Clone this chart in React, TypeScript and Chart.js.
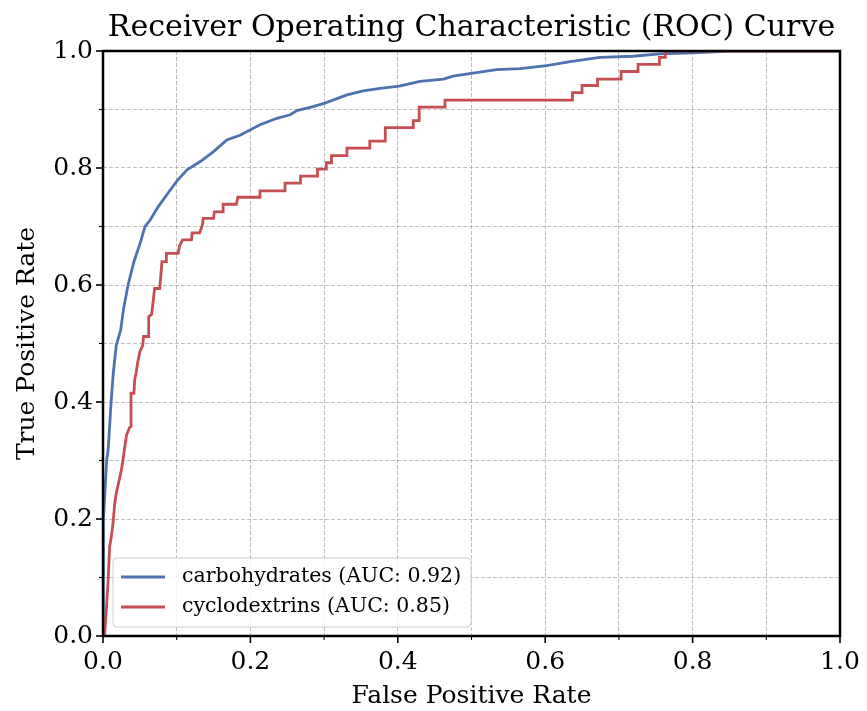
import { useEffect, useRef } from 'react';
import { Chart, registerables } from 'chart.js';

Chart.register(...registerables);

const chartTitle = 'Receiver Operating Characteristic (ROC) Curve';
const xAxisTitle = 'False Positive Rate';
const yAxisTitle = 'True Positive Rate';
const seriesNames = ['carbohydrates', 'cyclodextrins'];
const aucValues = [0.92, 0.85];
const seriesColors = ['#4C72B0', '#C44E52'];
const tickValues = [0, 0.1, 0.2, 0.3, 0.4, 0.5, 0.6, 0.7, 0.8, 0.9, 1.0];

const carbFpr = [0, 0, 0.001, 0.003, 0.005, 0.007, 0.011, 0.014, 0.018, 0.024, 0.028, 0.034, 0.042, 0.05, 0.057, 0.064, 0.075, 0.091, 0.101, 0.114, 0.132, 0.15, 0.168, 0.186, 0.204, 0.213, 0.236, 0.254, 0.263, 0.285, 0.301, 0.331, 0.353, 0.376, 0.402, 0.43, 0.462, 0.475, 0.502, 0.534, 0.566, 0.602, 0.634, 0.674, 0.719, 0.756, 0.801, 0.85, 1.0];
const carbTpr = [0, 0.05, 0.2, 0.255, 0.3, 0.318, 0.4, 0.45, 0.497, 0.523, 0.56, 0.6, 0.64, 0.67, 0.7, 0.711, 0.734, 0.762, 0.779, 0.797, 0.811, 0.828, 0.848, 0.856, 0.868, 0.874, 0.885, 0.891, 0.898, 0.905, 0.911, 0.925, 0.932, 0.936, 0.94, 0.948, 0.952, 0.957, 0.962, 0.968, 0.97, 0.975, 0.982, 0.989, 0.991, 0.995, 0.997, 1.0, 1.0];

const cycloFpr = [0, 0.002, 0.0045, 0.007, 0.009, 0.011, 0.0136, 0.016, 0.018, 0.021, 0.025, 0.027, 0.029, 0.032, 0.036, 0.038, 0.038, 0.042, 0.043, 0.045, 0.047, 0.05, 0.054, 0.055, 0.062, 0.062, 0.066, 0.068, 0.07, 0.077, 0.08, 0.086, 0.086, 0.102, 0.104, 0.108, 0.12, 0.121, 0.131, 0.135, 0.136, 0.15, 0.151, 0.163, 0.163, 0.181, 0.183, 0.213, 0.213, 0.247, 0.247, 0.268, 0.268, 0.291, 0.291, 0.303, 0.303, 0.31, 0.31, 0.331, 0.331, 0.362, 0.362, 0.383, 0.383, 0.421, 0.421, 0.429, 0.429, 0.464, 0.464, 0.637, 0.637, 0.65, 0.65, 0.671, 0.671, 0.703, 0.703, 0.726, 0.726, 0.755, 0.755, 0.763, 0.763, 1.0];
const cycloTpr = [0, 0, 0.044, 0.096, 0.153, 0.167, 0.193, 0.227, 0.244, 0.261, 0.284, 0.3, 0.318, 0.344, 0.356, 0.358, 0.415, 0.415, 0.438, 0.45, 0.467, 0.486, 0.497, 0.512, 0.512, 0.546, 0.55, 0.571, 0.594, 0.594, 0.64, 0.64, 0.654, 0.654, 0.668, 0.677, 0.677, 0.689, 0.689, 0.703, 0.714, 0.714, 0.725, 0.725, 0.738, 0.738, 0.75, 0.75, 0.761, 0.761, 0.774, 0.774, 0.786, 0.786, 0.798, 0.798, 0.809, 0.809, 0.821, 0.821, 0.834, 0.834, 0.846, 0.846, 0.869, 0.869, 0.881, 0.881, 0.904, 0.904, 0.916, 0.916, 0.929, 0.929, 0.941, 0.941, 0.952, 0.952, 0.965, 0.965, 0.977, 0.977, 0.989, 0.989, 1.0, 1.0];

const FONT = "'DejaVu Serif', serif";

const toPoints = (xs: number[], ys: number[]) => xs.map((x, i) => ({ x, y: ys[i] }));

const framePlugin = {
  id: 'frameTicks',
  afterDatasetsDraw(chart: any) {
    const { ctx, chartArea: a, scales } = chart;
    ctx.save();
    ctx.strokeStyle = '#000';
    tickValues.forEach((v, i) => {
      const major = i % 2 === 0;
      const len = major ? 7 : 4;
      ctx.lineWidth = major ? 1.6 : 1.1;
      const px = scales.x.getPixelForValue(v);
      ctx.beginPath();
      ctx.moveTo(px, a.bottom);
      ctx.lineTo(px, a.bottom + len);
      ctx.stroke();
      const py = scales.y.getPixelForValue(v);
      ctx.beginPath();
      ctx.moveTo(a.left, py);
      ctx.lineTo(a.left - len, py);
      ctx.stroke();
    });
    ctx.lineWidth = 2.5;
    ctx.strokeRect(a.left, a.top, a.right - a.left, a.bottom - a.top);
    // title centred over the plot area
    ctx.fillStyle = '#000';
    ctx.font = `30px ${FONT}`;
    ctx.textAlign = 'center';
    ctx.textBaseline = 'middle';
    ctx.fillText(chartTitle, (a.left + a.right) / 2, 28);
    ctx.restore();
  },
};

const legendPlugin = {
  id: 'insetLegend',
  afterDraw(chart: any) {
    const { ctx, chartArea: a } = chart;
    const ds = chart.data.datasets;
    ctx.save();
    ctx.font = `20.5px ${FONT}`;
    let maxW = 0;
    ds.forEach((d: any) => { maxW = Math.max(maxW, ctx.measureText(d.label).width); });
    const left = a.left + 10;
    const rowH = 30;
    const h = 69;
    const bottom = a.bottom - 9;
    const top = bottom - h;
    const w = 8 + 44 + 17 + maxW + 10;
    const r = 4;
    ctx.beginPath();
    ctx.moveTo(left + r, top);
    ctx.lineTo(left + w - r, top);
    ctx.quadraticCurveTo(left + w, top, left + w, top + r);
    ctx.lineTo(left + w, bottom - r);
    ctx.quadraticCurveTo(left + w, bottom, left + w - r, bottom);
    ctx.lineTo(left + r, bottom);
    ctx.quadraticCurveTo(left, bottom, left, bottom - r);
    ctx.lineTo(left, top + r);
    ctx.quadraticCurveTo(left, top, left + r, top);
    ctx.closePath();
    ctx.fillStyle = 'rgba(255,255,255,0.8)';
    ctx.fill();
    ctx.strokeStyle = '#cccccc';
    ctx.lineWidth = 1;
    ctx.stroke();
    ds.forEach((d: any, i: number) => {
      const cy = top + 19 + i * rowH;
      ctx.strokeStyle = d.borderColor;
      ctx.lineWidth = 2.8;
      ctx.beginPath();
      ctx.moveTo(left + 8, cy);
      ctx.lineTo(left + 52, cy);
      ctx.stroke();
      ctx.fillStyle = '#000';
      ctx.textBaseline = 'middle';
      ctx.textAlign = 'left';
      ctx.fillText(d.label, left + 69, cy);
    });
    ctx.restore();
  },
};

export default function App() {
  const ref = useRef<HTMLCanvasElement | null>(null);
  useEffect(() => {
    if (!ref.current) return;
    const tickLabel = (v: any) => {
      const k = Math.round(Number(v) * 10);
      return k % 2 === 0 ? (k / 10).toFixed(1) : '';
    };
    const gridOpts = {
      color: 'rgba(170,170,170,0.85)',
      lineWidth: 0.9,
      drawTicks: false,
    };
    const chart = new Chart(ref.current, {
      type: 'line',
      data: {
        datasets: [
          {
            label: `${seriesNames[0]} (AUC: ${aucValues[0].toFixed(2)})`,
            data: toPoints(carbFpr, carbTpr),
            borderColor: seriesColors[0],
            backgroundColor: seriesColors[0],
            borderWidth: 2.8,
            pointRadius: 0,
            tension: 0,
            order: 1,
          },
          {
            label: `${seriesNames[1]} (AUC: ${aucValues[1].toFixed(2)})`,
            data: toPoints(cycloFpr, cycloTpr),
            borderColor: seriesColors[1],
            backgroundColor: seriesColors[1],
            borderWidth: 2.8,
            pointRadius: 0,
            tension: 0,
            order: 0,
          },
        ],
      },
      options: {
        animation: false,
        responsive: false,
        layout: { padding: { left: 0, right: 27, top: 51, bottom: 0 } },
        plugins: {
          legend: { display: false },
          tooltip: { enabled: false },
          title: { display: false },
        },
        scales: {
          x: {
            type: 'linear',
            min: 0,
            max: 1,
            afterFit: (s: any) => {
              s.height = 75;
              s.paddingRight = 0;
              s.paddingLeft = 0;
            },
            ticks: {
              stepSize: 0.1,
              autoSkip: false,
              maxRotation: 0,
              padding: 11,
              color: '#000',
              font: { family: FONT, size: 25 },
              callback: tickLabel,
            },
            grid: { ...gridOpts },
            border: { display: false, dash: [4, 2] },
            title: {
              display: true,
              text: xAxisTitle,
              color: '#000',
              font: { family: FONT, size: 25, lineHeight: 1.2 },
              padding: { top: 0, bottom: 0 },
            },
          },
          y: {
            type: 'linear',
            min: 0,
            max: 1,
            afterFit: (s: any) => {
              s.width = 103;
              s.paddingTop = 0;
              s.paddingBottom = 0;
            },
            ticks: {
              stepSize: 0.1,
              autoSkip: false,
              padding: 10,
              color: '#000',
              font: { family: FONT, size: 25 },
              callback: tickLabel,
            },
            grid: { ...gridOpts },
            border: { display: false, dash: [4, 2] },
            title: {
              display: true,
              text: yAxisTitle,
              color: '#000',
              font: { family: FONT, size: 25, lineHeight: 1.2 },
              padding: { top: 12, bottom: 0 },
            },
          },
        },
      } as any,
      plugins: [framePlugin, legendPlugin],
    });
    return () => chart.destroy();
  }, []);
  return (
    <canvas
      ref={ref}
      width={867}
      height={711}
      style={{ position: 'absolute', left: 0, top: 0, display: 'block' }}
    />
  );
}
